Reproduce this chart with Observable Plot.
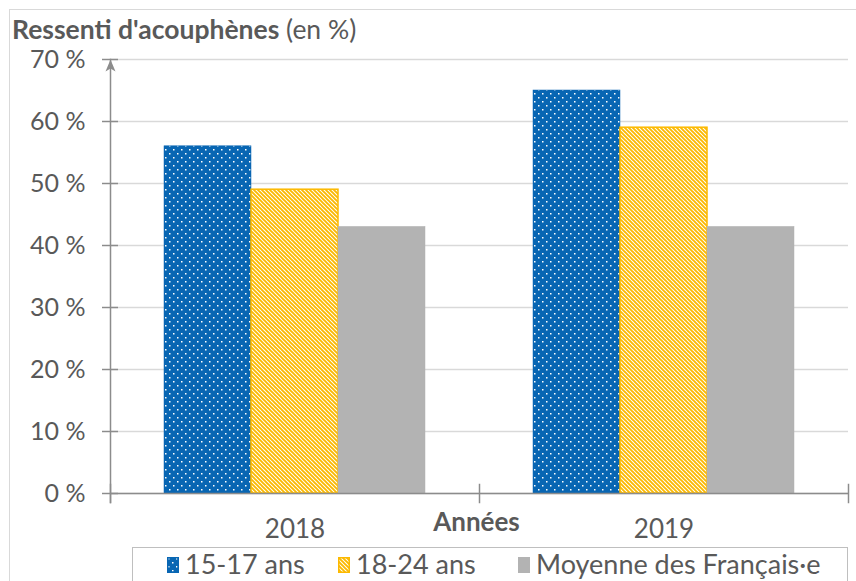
<!DOCTYPE html>
<html>
<head>
<meta charset="utf-8">
<script src="https://cdn.jsdelivr.net/npm/d3@7"></script>
<script src="https://cdn.jsdelivr.net/npm/@observablehq/plot@0.6"></script>
<style>
  body { margin: 0; background: #fff; }
  #wrap { position: relative; width: 856px; height: 581px; overflow: hidden; font-family: Lato, "Open Sans", sans-serif; color: #595959; }
  #border { position: absolute; left: 9px; top: 9px; width: 860px; height: 600px; border: 1.5px solid #d9d9d9; box-sizing: border-box; }
  #chart { position: absolute; left: 0; top: 0; }
  #title { position: absolute; left: 12px; top: 13px; font-size: 26.5px; line-height: 32px; white-space: nowrap; }
  #title b { font-weight: 700; }
  #legend { position: absolute; left: 132px; top: 547px; width: 716px; height: 60px; border: 1.5px solid #bfbfbf; box-sizing: border-box; }
  .item { position: absolute; top: 1px; font-size: 27px; line-height: 30px; white-space: nowrap; }
  .item svg { position: absolute; left: 0; top: 8px; }
  .item span { position: absolute; left: 18px; top: 0; }
</style>
</head>
<body>
<svg width="0" height="0" style="position:absolute">
  <defs>
    <pattern id="pBlue" patternUnits="userSpaceOnUse" width="8" height="8">
      <rect width="8" height="8" fill="#0866b3"></rect>
      <rect x="1" y="1" width="1.5" height="1.5" fill="#ffffff"></rect>
      <rect x="5" y="5" width="1.5" height="1.5" fill="#ffffff"></rect>
    </pattern>
    <pattern id="pYellow" patternUnits="userSpaceOnUse" width="4" height="4">
      <rect width="4" height="4" fill="#ffffff"></rect>
      <path d="M-1,-1 L5,5 M-1,3 L1,5 M3,-1 L5,1" stroke="#fcb900" stroke-width="1.9"></path>
    </pattern>
  </defs>
</svg>
<div id="wrap">
  <div id="border"></div>
  <div id="chart"></div>
  <div id="title"><b>Ressenti d'acouphènes</b> (en %)</div>
  <div id="legend"></div>
</div>
<script>
// ---- data ----
const years = ["2018", "2019"];
const series = ["15-17 ans", "18-24 ans", "Moyenne des Français·e"];
const values1517 = [56, 65];
const values1824 = [49, 59];
const valuesMoyenne = [43, 43];
const yTicks = [0, 10, 20, 30, 40, 50, 60, 70];
const xAxisTitle = "Années";

// ---- styles ----
const fills = ["url(#pBlue)", "url(#pYellow)", "#b3b3b3"];
const strokes = ["#0866b3", "#fcb900", "#b3b3b3"];
const axisGray = "#8c8c8c";
const textGray = "#595959";

const seriesValues = [values1517, values1824, valuesMoyenne];
const rows = [];
series.forEach((s, i) => years.forEach((y, j) => rows.push({year: y, series: s, value: seriesValues[i][j]})));

const chart = Plot.plot({
  width: 856,
  height: 581,
  marginTop: 59,
  marginRight: 8,
  marginBottom: 88,
  marginLeft: 110,
  style: {fontFamily: "Lato, 'Open Sans', sans-serif", fontSize: "25px", color: textGray, background: "transparent"},
  fx: {domain: years, padding: 0, label: null},
  x: {domain: series, paddingInner: 0, paddingOuter: 0.6, axis: null},
  y: {domain: [0, 70], label: null},
  marks: [
    Plot.gridY(yTicks, {stroke: "#d9d9d9", strokeOpacity: 1, strokeWidth: 1.5}),
    ...series.map((s, i) => Plot.barY(rows.filter(d => d.series === s), {
      fx: "year", x: "series", y: "value",
      fill: fills[i], stroke: strokes[i], strokeWidth: i === 1 ? 1.5 : 0.5
    })),
    Plot.ruleY([0], {stroke: axisGray, strokeWidth: 1.5}),
    Plot.frame({anchor: "left", facetAnchor: "left", stroke: axisGray, strokeWidth: 1.5, insetBottom: -9}),
    Plot.frame({anchor: "left", stroke: axisGray, strokeWidth: 1.5, insetTop: 425, insetBottom: -9}),
    Plot.frame({anchor: "right", facetAnchor: "right", stroke: axisGray, strokeWidth: 1.5, insetTop: 425, insetBottom: -9}),
    Plot.dot([0], {
      frameAnchor: "top-left", facetAnchor: "left", fill: axisGray, stroke: null,
      symbol: {draw(ctx) { ctx.moveTo(0, 0); ctx.lineTo(-5, 12); ctx.lineTo(0, 9); ctx.lineTo(5, 12); ctx.closePath(); }}
    }),
    Plot.axisY(yTicks, {
      tickFormat: d => d + " %", tickSize: 16, dx: 8, tickPadding: 17,
      stroke: axisGray, fill: textGray, strokeWidth: 1.5, label: null
    }),
    Plot.axisFx({anchor: "bottom", tickSize: 0, tickPadding: 26, label: null, fill: textGray, fontSize: 26}),
    Plot.text([xAxisTitle], {frameAnchor: "bottom-right", facetAnchor: "left", textAnchor: "middle", dx: -3, dy: 37, fontWeight: "bold", fill: textGray, fontSize: 26})
  ]
});
document.getElementById("chart").appendChild(chart);

// ---- legend ----
const legend = document.getElementById("legend");
const legendX = [34, 205, 385];
series.forEach((s, i) => {
  const item = document.createElement("div");
  item.className = "item";
  item.style.left = legendX[i] + "px";
  item.innerHTML = `<svg width="12" height="16"><rect x="0.75" y="0.75" width="10.5" height="14.5" fill="${fills[i]}" stroke="${strokes[i]}" stroke-width="1.5"></rect></svg><span></span>`;
  item.querySelector("span").textContent = s;
  legend.appendChild(item);
});
</script>
</body>
</html>
